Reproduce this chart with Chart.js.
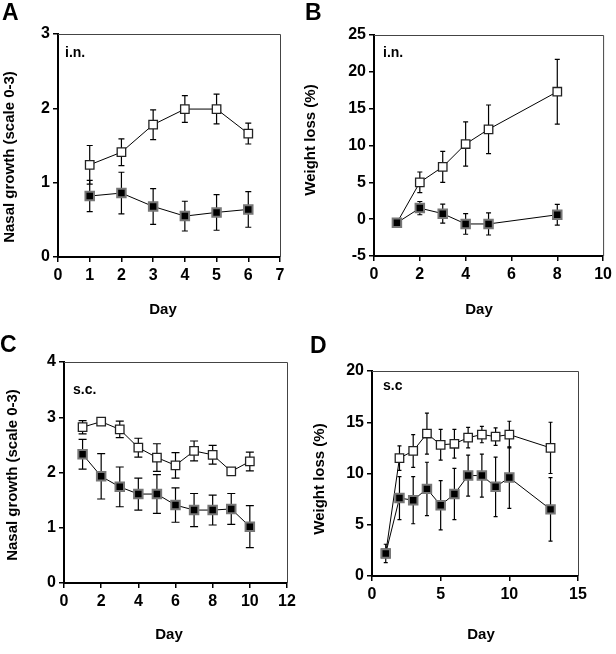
<!DOCTYPE html>
<html lang="en">

<head>
    <meta charset="UTF-8">
    <title>Nasal growth and weight loss</title>
    <style>
        body { margin: 0; background: #fff; }
        canvas { position: absolute; }
    </style>
</head>

<body>
    <script src="https://cdn.jsdelivr.net/npm/chart.js@4/dist/chart.umd.min.js"></script>

    <canvas id="chartA" width="308" height="327" style="left:0;top:0"></canvas>
    <canvas id="chartB" width="316" height="327" style="left:300px;top:0"></canvas>
    <canvas id="chartC" width="308" height="327" style="left:0;top:327px"></canvas>
    <canvas id="chartD" width="316" height="327" style="left:300px;top:327px"></canvas>

    <script>
        // A: i.n., nasal growth
        const daysA = [1, 2, 3, 4, 5, 6]
        const openA = [1.24, 1.41, 1.78, 1.99, 1.99, 1.66]
        const openErrA = [0.26, 0.18, 0.2, 0.18, 0.2, 0.14]
        const filledA = [0.82, 0.86, 0.68, 0.55, 0.6, 0.64]
        const filledErrA = [0.21, 0.28, 0.24, 0.2, 0.24, 0.24]

        // B: i.n., weight loss
        const daysB = [1, 2, 3, 4, 5, 8]
        const openB = [-0.5, 5.0, 7.1, 10.2, 12.2, 17.3]
        const openErrB = [0, 1.4, 2.1, 3.0, 3.3, 4.4]
        const filledB = [-0.5, 1.5, 0.75, -0.65, -0.65, 0.6]
        const filledErrB = [0, 0.9, 1.3, 1.4, 1.5, 1.4]

        // C: s.c., nasal growth
        const daysC = [1, 2, 3, 4, 5, 6, 7, 8, 9, 10]
        const openC = [2.82, 2.92, 2.78, 2.45, 2.27, 2.13, 2.39, 2.32, 2.02, 2.2]
        const openErrC = [0.12, 0.06, 0.15, 0.17, 0.25, 0.23, 0.18, 0.17, 0.03, 0.17]
        const filledC = [2.33, 1.93, 1.74, 1.61, 1.61, 1.41, 1.32, 1.32, 1.34, 1.02]
        const filledErrC = [0.27, 0.41, 0.36, 0.29, 0.35, 0.31, 0.3, 0.27, 0.28, 0.38]

        // D: s.c, weight loss
        const daysD = [1, 2, 3, 4, 5, 6, 7, 8, 9, 10, 13]
        const openD = [2.2, 11.5, 12.2, 13.9, 12.8, 12.9, 13.5, 13.8, 13.6, 13.8, 12.5]
        const openErrD = [0, 1.2, 1.6, 2.0, 1.5, 1.4, 1.0, 0.8, 0.85, 1.3, 2.5]
        const filledD = [2.2, 7.6, 7.4, 8.5, 6.9, 8.0, 9.8, 9.8, 8.7, 9.6, 6.5]
        const filledErrD = [0.9, 2.1, 2.3, 2.6, 2.4, 2.5, 2.0, 2.1, 2.9, 3.0, 3.1]

        const FONT = 'Arial, "Liberation Sans", sans-serif'

        // error bars, drawn under the markers
        const errorBars = {
            id: 'errorBars',
            beforeDatasetsDraw(chart, args, opts) {
                const { ctx, scales: { x, y } } = chart
                ctx.save()
                ctx.strokeStyle = '#000'
                ctx.lineWidth = opts.width
                for (const ds of chart.data.datasets) {
                    ds.data.forEach((p, i) => {
                        const e = ds.errors[i]
                        if (!e) return
                        const px = x.getPixelForValue(p.x)
                        const top = y.getPixelForValue(p.y + e)
                        const bot = y.getPixelForValue(p.y - e)
                        ctx.beginPath()
                        ctx.moveTo(px, top)
                        ctx.lineTo(px, bot)
                        ctx.moveTo(px - opts.cap, top)
                        ctx.lineTo(px + opts.cap, top)
                        ctx.moveTo(px - opts.cap, bot)
                        ctx.lineTo(px + opts.cap, bot)
                        ctx.stroke()
                    })
                }
                ctx.restore()
            }
        }

        // top/right frame, axis titles, panel letter and route label
        const frame = {
            id: 'frame',
            afterDraw(chart, args, opts) {
                const { ctx, chartArea: a } = chart
                ctx.save()
                ctx.strokeStyle = '#444'
                ctx.lineWidth = 1
                ctx.beginPath()
                ctx.moveTo(a.left, a.top + 0.5)
                ctx.lineTo(a.right + 0.5, a.top + 0.5)
                ctx.lineTo(a.right + 0.5, a.bottom)
                ctx.stroke()

                ctx.fillStyle = '#000'
                ctx.textBaseline = 'alphabetic'
                ctx.font = 'bold 23px ' + FONT
                ctx.fillText(opts.letter, opts.letterX, opts.letterY)
                ctx.font = 'bold 14px ' + FONT
                ctx.fillText(opts.note, opts.noteX, opts.noteY)

                ctx.font = 'bold 15px ' + FONT
                ctx.textAlign = 'center'
                ctx.textBaseline = 'middle'
                ctx.fillText('Day', opts.dayX, opts.dayY)
                ctx.translate(opts.yTitleX, opts.yTitleY)
                ctx.rotate(-Math.PI / 2)
                ctx.fillText(opts.yTitle, 0, 0)
                ctx.restore()
            }
        }

        function points(days, vals) {
            return days.map((d, i) => ({ x: d, y: vals[i] }))
        }

        function panel(id, o) {
            const ctx = document.getElementById(id).getContext('2d')
            new Chart(ctx, {
                type: 'line',
                data: {
                    datasets: [
                        {
                            data: points(o.days, o.filled),
                            errors: o.filledErr,
                            borderColor: '#000',
                            borderWidth: 1,
                            pointStyle: 'rect',
                            pointRadius: 6,
                            pointBackgroundColor: '#000',
                            pointBorderColor: '#777',
                            pointBorderWidth: 2,
                            tension: 0
                        },
                        {
                            data: points(o.days, o.open),
                            errors: o.openErr,
                            borderColor: '#000',
                            borderWidth: 1,
                            pointStyle: 'rect',
                            pointRadius: 6,
                            pointBackgroundColor: '#fff',
                            pointBorderColor: '#222',
                            pointBorderWidth: 1.3,
                            tension: 0
                        }
                    ]
                },
                options: {
                    responsive: false,
                    animation: false,
                    devicePixelRatio: 1,
                    layout: { padding: { left: 0, top: o.top, right: o.right, bottom: 0 } },
                    plugins: {
                        legend: { display: false },
                        tooltip: { enabled: false },
                        errorBars: { width: 1.2, cap: o.cap },
                        frame: o.text
                    },
                    scales: {
                        x: {
                            type: 'linear',
                            min: 0,
                            max: o.xMax,
                            ticks: { stepSize: o.xStep, color: '#000', padding: 4, maxRotation: 0, font: { family: FONT, size: 16, weight: 'bold' } },
                            grid: { drawOnChartArea: false, tickLength: 5, color: '#000', lineWidth: 1.5 },
                            border: { color: '#000', width: 2 },
                            afterFit(scale) { scale.height = o.xHeight }
                        },
                        y: {
                            min: o.yMin,
                            max: o.yMax,
                            ticks: { stepSize: o.yStep, color: '#000', padding: 3, font: { family: FONT, size: 16, weight: 'bold' } },
                            grid: { drawOnChartArea: false, tickLength: 5, color: '#000', lineWidth: 1.5 },
                            border: { color: '#000', width: 2 },
                            afterFit(scale) { scale.width = o.yWidth }
                        }
                    }
                },
                plugins: [errorBars, frame]
            })
        }

        panel('chartA', {
            days: daysA, open: openA, openErr: openErrA, filled: filledA, filledErr: filledErrA,
            xMax: 7, xStep: 1, yMin: 0, yMax: 3, yStep: 1,
            yWidth: 58, xHeight: 70, top: 34, right: 28, cap: 3,
            text: {
                yTitle: 'Nasal growth (scale 0-3)', yTitleX: 10, yTitleY: 157, dayX: 163, dayY: 310,
                letter: 'A', letterX: 2, letterY: 20, note: 'i.n.', noteX: 65, noteY: 57
            }
        })

        panel('chartB', {
            days: daysB, open: openB, openErr: openErrB, filled: filledB, filledErr: filledErrB,
            xMax: 10, xStep: 2, yMin: -5, yMax: 25, yStep: 5,
            yWidth: 74, xHeight: 71, top: 35, right: 10, cap: 2.5,
            text: {
                yTitle: 'Weight loss (%)', yTitleX: 10.5, yTitleY: 140, dayX: 179, dayY: 310,
                letter: 'B', letterX: 5, letterY: 20, note: 'i.n.', noteX: 83, noteY: 57
            }
        })

        panel('chartC', {
            days: daysC, open: openC, openErr: openErrC, filled: filledC, filledErr: filledErrC,
            xMax: 12, xStep: 2, yMin: 0, yMax: 4, yStep: 1,
            yWidth: 64, xHeight: 71, top: 35, right: 21, cap: 4,
            text: {
                yTitle: 'Nasal growth (scale 0-3)', yTitleX: 12.5, yTitleY: 148, dayX: 169, dayY: 308,
                letter: 'C', letterX: 0, letterY: 25, note: 's.c.', noteX: 73, noteY: 67
            }
        })

        panel('chartD', {
            days: daysD, open: openD, openErr: openErrD, filled: filledD, filledErr: filledErrD,
            xMax: 15, xStep: 5, yMin: 0, yMax: 20, yStep: 5,
            yWidth: 72, xHeight: 78, top: 44, right: 38, cap: 2,
            text: {
                yTitle: 'Weight loss (%)', yTitleX: 19.5, yTitleY: 152, dayX: 181, dayY: 308,
                letter: 'D', letterX: 10, letterY: 26, note: 's.c', noteX: 83, noteY: 63
            }
        })
    </script>

</body>

</html>
